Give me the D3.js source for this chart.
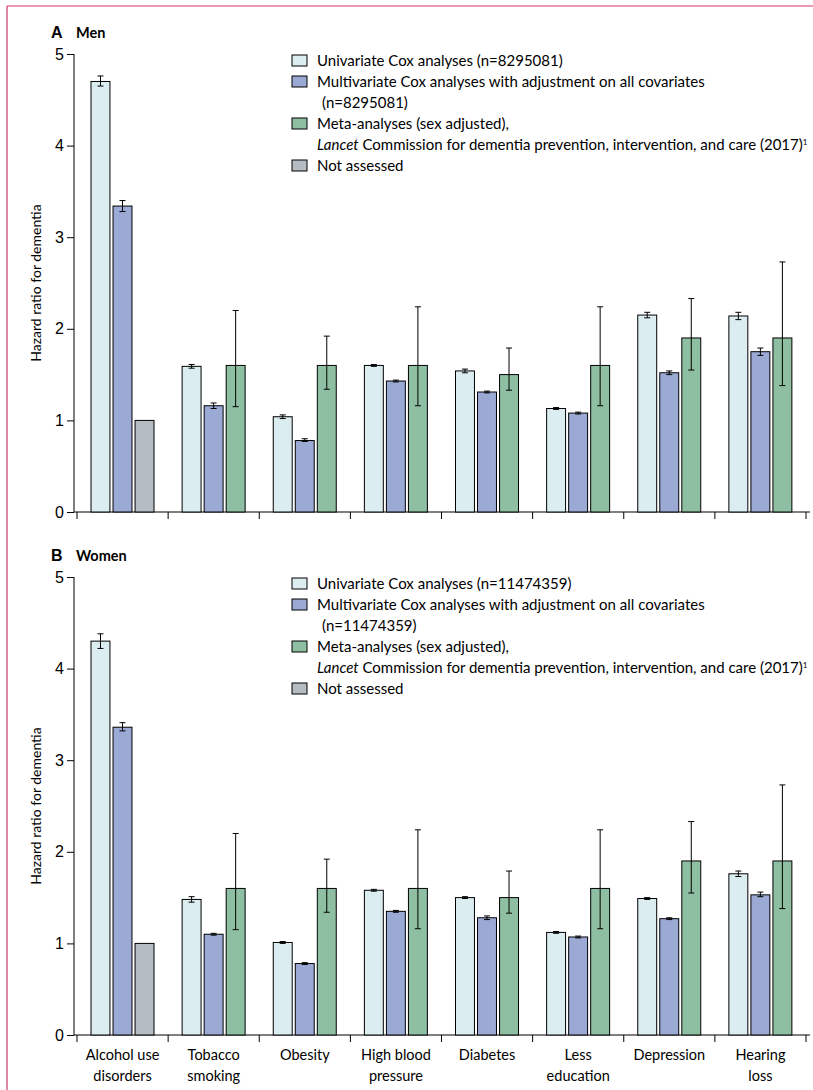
<!DOCTYPE html>
<html><head><meta charset="utf-8">
<script src="https://cdn.jsdelivr.net/npm/d3@7"></script>
<style>body{margin:0;background:#fff}svg{font-family:Lato,"Liberation Sans",sans-serif}</style>
</head><body><svg id="c" width="813" height="1090"></svg>
<script>
const categories=["Alcohol use\ndisorders","Tobacco\nsmoking","Obesity","High blood\npressure","Diabetes","Less\neducation","Depression","Hearing\nloss"];
const seriesNames=["uni","multi","meta"];
const menUni=[4.70,1.59,1.04,1.60,1.54,1.13,2.15,2.14];
const menUniLo=[4.65,1.57,1.02,1.59,1.52,1.12,2.12,2.10];
const menUniHi=[4.76,1.61,1.06,1.61,1.56,1.14,2.18,2.18];
const menMulti=[3.34,1.16,0.78,1.43,1.31,1.08,1.52,1.75];
const menMultiLo=[3.28,1.13,0.77,1.42,1.30,1.07,1.50,1.71];
const menMultiHi=[3.40,1.19,0.80,1.44,1.32,1.09,1.54,1.79];
const womenUni=[4.30,1.48,1.01,1.58,1.50,1.12,1.49,1.76];
const womenUniLo=[4.22,1.45,1.00,1.57,1.49,1.11,1.48,1.73];
const womenUniHi=[4.38,1.51,1.02,1.59,1.51,1.13,1.50,1.79];
const womenMulti=[3.36,1.10,0.78,1.35,1.28,1.07,1.27,1.53];
const womenMultiLo=[3.32,1.09,0.77,1.34,1.26,1.06,1.26,1.51];
const womenMultiHi=[3.41,1.11,0.79,1.36,1.30,1.08,1.28,1.56];
const metaVal=[1.0,1.6,1.6,1.6,1.5,1.6,1.9,1.9];
const metaLo=[null,1.15,1.34,1.16,1.33,1.16,1.55,1.38];
const metaHi=[null,2.20,1.92,2.24,1.79,2.24,2.33,2.73];
const yTicks=[0,1,2,3,4,5];
const colors={uni:"#dcedf1",multi:"#9ba9d5",meta:"#8fbfa2",na:"#b5bdc3"};

const svg=d3.select("#c");
svg.append("line").attr("x1",7).attr("x2",813).attr("y1",6).attr("y2",6).attr("stroke","#d1376b").attr("stroke-width",1.2);
svg.append("line").attr("x1",7).attr("x2",7).attr("y1",6).attr("y2",1090).attr("stroke","#d1376b").attr("stroke-width",1.2);

function panel(off,letter,title,n,uni,uLo,uHi,mul,mLo,mHi,labels){
  const g=svg.append("g").attr("transform",`translate(0,${off})`);
  const y=d3.scaleLinear().domain([0,5]).range([512,54]);
  const x=d3.scaleBand().domain(categories).range([77,806]);
  const xs=d3.scaleBand().domain(seriesNames).range([14,77]).paddingInner(0.14);
  g.append("text").attr("x",51).attr("y",38).attr("font-family","Liberation Sans, sans-serif").attr("font-weight","bold").attr("font-size",16).text(letter);
  g.append("text").attr("x",76).attr("y",38).attr("font-weight","bold").attr("font-size",14.5).text(title);
  g.append("text").attr("transform",`translate(41,283) rotate(-90)`).attr("text-anchor","middle").attr("font-size",14).text("Hazard ratio for dementia");
  const ya=g.append("g").attr("transform","translate(74,0)").call(d3.axisLeft(y).tickValues(yTicks).tickSize(7).tickPadding(3).tickFormat(d3.format("d")));
  ya.select(".domain").attr("d","M0,54V512");
  ya.selectAll("text").attr("font-size",16).attr("font-family","inherit");
  g.append("line").attr("x1",74).attr("x2",810).attr("y1",512).attr("y2",512).attr("stroke","#000");
  const bounds=categories.map(c=>x(c)).concat([806]);
  g.selectAll(".xt").data(bounds).join("line").attr("x1",d=>d).attr("x2",d=>d).attr("y1",512).attr("y2",519).attr("stroke","#000");
  const data=[];
  categories.forEach((c,i)=>{
    data.push({c,s:"uni",v:uni[i],lo:uLo[i],hi:uHi[i],f:colors.uni});
    data.push({c,s:"multi",v:mul[i],lo:mLo[i],hi:mHi[i],f:colors.multi});
    data.push({c,s:"meta",v:metaVal[i],lo:metaLo[i],hi:metaHi[i],f:i===0?colors.na:colors.meta});
  });
  g.selectAll(".bar").data(data).join("rect").attr("x",d=>x(d.c)+xs(d.s)).attr("width",xs.bandwidth())
   .attr("y",d=>y(d.v)).attr("height",d=>512-y(d.v)).attr("fill",d=>d.f).attr("stroke","#000").attr("stroke-width",1);
  const eb=data.filter(d=>d.lo!=null);
  const cx=d=>x(d.c)+xs(d.s)+xs.bandwidth()/2;
  g.selectAll(".ev").data(eb).join("line").attr("x1",cx).attr("x2",cx).attr("y1",d=>y(d.lo)).attr("y2",d=>y(d.hi)).attr("stroke","#000");
  g.selectAll(".eh").data(eb).join("line").attr("x1",d=>cx(d)-3).attr("x2",d=>cx(d)+3).attr("y1",d=>y(d.hi)).attr("y2",d=>y(d.hi)).attr("stroke","#000");
  g.selectAll(".el").data(eb).join("line").attr("x1",d=>cx(d)-3).attr("x2",d=>cx(d)+3).attr("y1",d=>y(d.lo)).attr("y2",d=>y(d.lo)).attr("stroke","#000");
  const leg=[{f:colors.uni,t:[`Univariate Cox analyses (n=${n})`],},{f:colors.multi,t:["Multivariate Cox analyses with adjustment on all covariates","IND(n="+n+")"]},{f:colors.meta,t:["Meta-analyses (sex adjusted),","LANCET"]},{f:colors.na,t:["Not assessed"]}];
  let ly=55;
  leg.forEach(L=>{
    g.append("rect").attr("x",292).attr("y",ly).attr("width",15).attr("height",11).attr("fill",L.f).attr("stroke","#000");
    L.t.forEach(t=>{
      const tx=g.append("text").attr("x",317).attr("y",ly+11).attr("font-size",15).attr("textLength",null);
      if(t==="LANCET"){tx.append("tspan").attr("font-style","italic").text("Lancet");tx.append("tspan").text(" Commission for dementia prevention, intervention, and care (2017)");tx.append("tspan").attr("font-size",8).attr("dy",-5).text("1");}
      else if(t.startsWith("IND")){tx.attr("x",322).text(t.slice(3));}
      else tx.text(t);
      ly+=21;
    });
  });
  if(labels){
    categories.forEach(c=>{
      const lines=c.split("\n");
      const t=g.append("text").attr("text-anchor","middle").attr("font-size",14.5);
      lines.forEach((l,i)=>t.append("tspan").attr("x",x(c)+x.bandwidth()/2).attr("y",537+i*21).text(l));
    });
  }
}
panel(0,"A","Men","8295081",menUni,menUniLo,menUniHi,menMulti,menMultiLo,menMultiHi,false);
panel(523,"B","Women","11474359",womenUni,womenUniLo,womenUniHi,womenMulti,womenMultiLo,womenMultiHi,true);
</script></body></html>
